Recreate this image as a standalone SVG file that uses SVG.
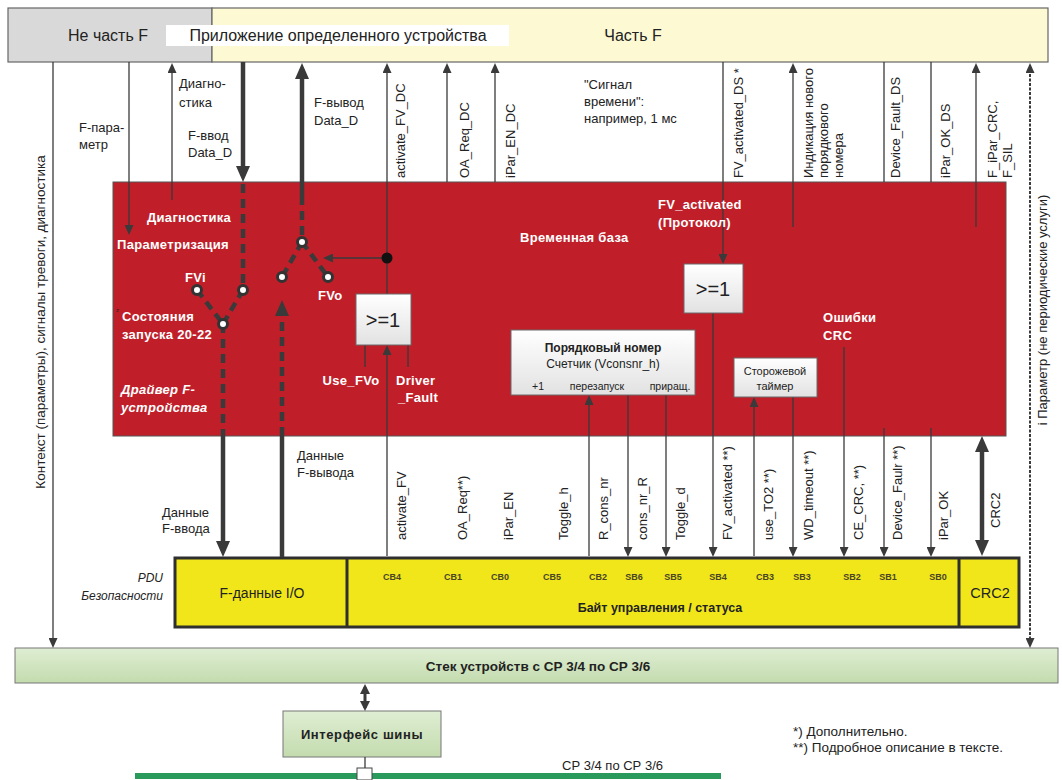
<svg xmlns="http://www.w3.org/2000/svg" width="1062" height="780" viewBox="0 0 1062 780">
<style>
text{font-family:"Liberation Sans",Arial,sans-serif;fill:#222}
.s13{font-size:13px}
.s12{font-size:12px}
.s16{font-size:16px}
.w{font-size:13px;font-weight:bold;fill:#fff;letter-spacing:0.3px}
.wi{font-style:italic}
.code{font-size:9px;font-weight:bold;fill:#4a4526;text-anchor:middle}
.mid{text-anchor:middle}
.end{text-anchor:end}
.ln{stroke:#3a3a3a;stroke-width:1.3;fill:none}
.thk{stroke:#3a3a3a;stroke-width:4.5;fill:none}
.dsh{stroke:#3a3a3a;stroke-width:4.5;fill:none;stroke-dasharray:9 6}
.dot{stroke:#3a3a3a;stroke-width:2;fill:none;stroke-dasharray:3 1.5}
.ar{marker-end:url(#a)}
.AR{marker-end:url(#A)}
.gate{fill:url(#gg);stroke:#6a6a6a;stroke-width:1}
.sw{fill:#fff;stroke:#333;stroke-width:3}
</style>
<defs>
<marker id="a" markerUnits="userSpaceOnUse" markerWidth="10" markerHeight="9" refX="8" refY="4.5" orient="auto-start-reverse"><path d="M0,0 L10,4.5 L0,9 z" fill="#3a3a3a"/></marker>
<marker id="A" markerUnits="userSpaceOnUse" markerWidth="16" markerHeight="14" refX="10" refY="7" orient="auto-start-reverse"><path d="M0,0 L16,7 L0,14 z" fill="#3a3a3a"/></marker>
<marker id="m" markerUnits="userSpaceOnUse" markerWidth="10" markerHeight="10" refX="7" refY="5" orient="auto-start-reverse"><path d="M0,0 L10,5 L0,10 z" fill="#3a3a3a"/></marker>
<linearGradient id="gg" x1="0" y1="0" x2="0" y2="1"><stop offset="0" stop-color="#ffffff"/><stop offset="1" stop-color="#e2e2e2"/></linearGradient>
<linearGradient id="gr" x1="0" y1="0" x2="0" y2="1"><stop offset="0" stop-color="#dfeed3"/><stop offset="1" stop-color="#c3dbae"/></linearGradient>
</defs>

<g id="not-f-part">
<rect x="8" y="8" width="204" height="54" fill="#d9d9d9" stroke="#666" stroke-width="1.2"/>
<text class="s16 mid" x="108" y="41">Не часть F</text>
</g>
<g id="f-part">
<rect x="212" y="8" width="836" height="54" fill="#fdf9d3" stroke="#666" stroke-width="1.2"/>
<text class="s16 mid" x="633" y="41">Часть F</text>
</g>
<g id="app-label">
<rect x="166" y="25" width="343" height="21" fill="#fff"/>
<text class="s16 mid" x="338" y="41">Приложение определенного устройства</text>
</g>

<g id="driver">
<rect x="113" y="182" width="893" height="254" fill="#c01f2a" stroke="#555" stroke-width="1"/>
</g>

<g id="pdu">
<rect x="175" y="558" width="844" height="69" fill="#f0e61a" stroke="#2f2f2f" stroke-width="3"/>
<path d="M347,558 V627 M959,558 V627" stroke="#2f2f2f" stroke-width="3"/>
<text class="mid" x="262" y="598" font-size="14">F-данные I/O</text>
<text class="mid" x="660" y="612" font-size="12.5" font-weight="bold">Байт управления / статуса</text>
<text class="mid" x="990" y="598" font-size="14.5">CRC2</text>
<text class="code" x="392" y="580">CB4</text>
<text class="code" x="453" y="580">CB1</text>
<text class="code" x="500" y="580">CB0</text>
<text class="code" x="552" y="580">CB5</text>
<text class="code" x="598" y="580">CB2</text>
<text class="code" x="634" y="580">SB6</text>
<text class="code" x="673" y="580">SB5</text>
<text class="code" x="718" y="580">SB4</text>
<text class="code" x="765" y="580">CB3</text>
<text class="code" x="802" y="580">SB3</text>
<text class="code" x="852" y="580">SB2</text>
<text class="code" x="888" y="580">SB1</text>
<text class="code" x="938" y="580">SB0</text>
</g>

<g id="stack">
<rect x="15" y="648" width="1043" height="35" fill="url(#gr)" stroke="#777" stroke-width="1"/>
<text class="mid" x="538" y="671" font-size="13.5" font-weight="bold">Стек устройств с СР 3/4 по СР 3/6</text>
</g>
<g id="bus-interface">
<rect x="283" y="711" width="158" height="46" fill="url(#gr)" stroke="#777" stroke-width="1"/>
<text class="mid" x="362" y="739" font-size="13" font-weight="bold" letter-spacing="0.6">Интерфейс шины</text>
</g>
<g id="bus">
<rect x="135" y="773" width="586" height="6" fill="#2a9a5c"/>
<rect x="357" y="768" width="15" height="12" fill="#fff" stroke="#444" stroke-width="1"/>
<text x="562" y="770" font-size="13">СР 3/4 по СР 3/6</text>
</g>

<g id="connectors">
<path class="ln ar" d="M53,62 V646"/>
<path class="ln ar" d="M129,62 V233"/>
<path class="ln ar" d="M172,200 V65"/>
<path class="thk AR" d="M243,62 V176"/>
<path class="dsh" d="M243,184 V285"/>
<path class="thk AR" d="M302,196 V69"/>
<path class="dsh" d="M302,196 V237"/>
<path class="dsh" d="M197,290 L223,324 M243,290 L223,324"/>
<path class="dsh" d="M223,324 V436"/>
<path class="thk AR" d="M223,436 V551"/>
<path class="dsh" d="M302,242 L282,277 M302,242 L328,277"/>
<path class="thk" d="M282,557 V436"/>
<path class="dsh AR" d="M282,436 V306"/>
<path class="ln ar" d="M387,294 V65"/>
<path class="ln ar" d="M387,258 H325"/>
<path class="ln ar" d="M447,182 V65"/>
<path class="ln ar" d="M495,182 V65"/>
<path class="ln ar" d="M723,62 V262"/>
<path class="ln ar" d="M793,227 V65"/>
<path class="ln" d="M884,62 V182 M931,62 V182"/>
<path class="ln ar" d="M976,227 V65"/>
<path class="dot" d="M1030,65 V646" marker-start="url(#a)" marker-end="url(#a)"/>
<path class="ln ar" d="M387,556 V347"/>
<path class="ln" d="M365,345 V367 M408,345 V367"/>
<path class="ln ar" d="M713,313 V555"/>
<path class="ln ar" d="M589,556 V397"/>
<path class="ln ar" d="M628,395 V555"/>
<path class="ln ar" d="M666,395 V555"/>
<path class="ln ar" d="M754,556 V399"/>
<path class="ln ar" d="M793,397 V555"/>
<path class="ln ar" d="M844,347 V555"/>
<path class="ln ar" d="M884,428 V555"/>
<path class="ln ar" d="M931,428 V555"/>
<path class="thk" d="M982,442 V550" marker-start="url(#A)" marker-end="url(#A)"/>
<path stroke="#3a3a3a" stroke-width="3" fill="none" d="M365,687 V708" marker-start="url(#m)" marker-end="url(#m)"/>
<path class="ln" d="M365,757 V768"/>
<circle cx="387" cy="258" r="5.5" fill="#111"/>
</g>

<g id="switch-in">
<circle class="sw" cx="197" cy="290" r="4.5"/>
<circle class="sw" cx="243" cy="290" r="4.5"/>
<circle class="sw" cx="223" cy="324" r="4.5"/>
</g>
<g id="switch-out">
<circle class="sw" cx="302" cy="242" r="4.5"/>
<circle class="sw" cx="282" cy="277" r="4.5"/>
<circle class="sw" cx="328" cy="277" r="4.5"/>
</g>

<g id="or-gate-1">
<rect class="gate" x="356" y="294" width="55" height="51"/>
<text class="mid" x="383" y="327" font-size="20">&gt;=1</text>
</g>
<g id="or-gate-2">
<rect class="gate" x="684" y="264" width="59" height="49"/>
<text class="mid" x="713" y="296" font-size="20">&gt;=1</text>
</g>
<g id="seq-counter">
<rect class="gate" x="511" y="330" width="184" height="65"/>
<text class="mid" x="603" y="352" font-size="12" font-weight="bold">Порядковый номер</text>
<text class="mid" x="603" y="368" font-size="12">Счетчик (Vconsnr_h)</text>
<text class="mid" x="538" y="390" font-size="10.5">+1</text>
<text class="mid" x="597" y="390" font-size="10.5">перезапуск</text>
<text class="mid" x="670" y="390" font-size="10.5">приращ.</text>
</g>
<g id="watchdog">
<rect class="gate" x="734" y="358" width="83" height="39"/>
<text class="mid" x="775" y="375" font-size="11">Сторожевой</text>
<text class="mid" x="775" y="390" font-size="11">таймер</text>
</g>

<g id="red-labels">
<text class="w" x="147" y="222">Диагностика</text>
<text class="w" x="117" y="249">Параметризация</text>
<text class="w" x="185" y="282">FVi</text>
<text x="116" y="312" font-size="6" fill="#fff">z</text>
<text class="w" x="122" y="321">Состояния</text>
<text class="w" x="122" y="339">запуска 20-22</text>
<text class="w wi" x="121" y="394">Драйвер F-</text>
<text class="w wi" x="121" y="412">устройства</text>
<text class="w" x="318" y="300">FVo</text>
<text class="w mid" x="351" y="385">Use_FVo</text>
<text class="w" x="396" y="385">Driver</text>
<text class="w" x="398" y="402">_Fault</text>
<text class="w" x="520" y="242">Временная база</text>
<text class="w" x="658" y="209">FV_activated</text>
<text class="w" x="658" y="227">(Протокол)</text>
<text class="w" x="823" y="322">Ошибки</text>
<text class="w" x="823" y="340">CRC</text>
</g>

<g id="labels">
<text class="s13" x="79" y="132">F-пара-</text>
<text class="s13" x="79" y="149">метр</text>
<text class="s13" x="179" y="88">Диагно-</text>
<text class="s13" x="179" y="107">стика</text>
<text class="s13" x="188" y="140">F-ввод</text>
<text class="s13" x="188" y="157">Data_D</text>
<text class="s13" x="314" y="107">F-вывод</text>
<text class="s13" x="314" y="125">Data_D</text>
<text class="s13" x="584" y="89">"Сигнал</text>
<text class="s13" x="584" y="106">времени":</text>
<text class="s13" x="584" y="123">например, 1 мс</text>
<text class="s13" x="162" y="517">Данные</text>
<text class="s13" x="162" y="533">F-ввода</text>
<text class="s13" x="297" y="460">Данные</text>
<text class="s13" x="297" y="477">F-вывода</text>
<text class="s12 end wi" x="163" y="582" fill="#444">PDU</text>
<text class="s12 end wi" x="163" y="600" fill="#444">Безопасности</text>
<text x="793" y="736" font-size="13.5">*) Дополнительно.</text>
<text x="793" y="752" font-size="13.5">**) Подробное описание в тексте.</text>
<text class="mid" font-size="13.5" transform="translate(45,322) rotate(-90)">Контекст (параметры), сигналы тревоги, диагностика</text>
<text class="s13 mid" transform="translate(1047,310) rotate(-90)">i Параметр (не периодические услуги)</text>
<text class="s13" transform="translate(405,178) rotate(-90)">activate_FV_DC</text>
<text class="s13" transform="translate(469,178) rotate(-90)">OA_Req_DC</text>
<text class="s13" transform="translate(515,178) rotate(-90)">iPar_EN_DC</text>
<text class="s13" transform="translate(743,178) rotate(-90)">FV_activated_DS *</text>
<text class="s13" transform="translate(813,178) rotate(-90)">Индикация нового</text>
<text class="s13" transform="translate(828,178) rotate(-90)">порядкового</text>
<text class="s13" transform="translate(843,178) rotate(-90)">номера</text>
<text class="s13" transform="translate(900,178) rotate(-90)">Device_Fault_DS</text>
<text class="s13" transform="translate(950,178) rotate(-90)">iPar_OK_DS</text>
<text class="s13" transform="translate(997,178) rotate(-90)">F_iPar_CRC,</text>
<text class="s13" transform="translate(1012,178) rotate(-90)">F_SIL</text>
<text class="s13" transform="translate(406,540) rotate(-90)">activate_FV</text>
<text class="s13" transform="translate(467,540) rotate(-90)">OA_Req**)</text>
<text class="s13" transform="translate(513,540) rotate(-90)">iPar_EN</text>
<text class="s13" transform="translate(568,540) rotate(-90)">Toggle_h</text>
<text class="s13" transform="translate(608,540) rotate(-90)">R_cons_nr</text>
<text class="s13" transform="translate(647,540) rotate(-90)">cons_nr_R</text>
<text class="s13" transform="translate(685,540) rotate(-90)">Toggle_d</text>
<text class="s13" transform="translate(732,540) rotate(-90)">FV_activated **)</text>
<text class="s13" transform="translate(773,540) rotate(-90)">use_TO2 **)</text>
<text class="s13" transform="translate(813,540) rotate(-90)">WD_timeout **)</text>
<text class="s13" transform="translate(863,540) rotate(-90)">CE_CRC, **)</text>
<text class="s13" transform="translate(902,540) rotate(-90)">Device_Faulr **)</text>
<text class="s13" transform="translate(948,540) rotate(-90)">iPar_OK</text>
<text class="s13" transform="translate(1000,528) rotate(-90)">CRC2</text>
</g>
</svg>
